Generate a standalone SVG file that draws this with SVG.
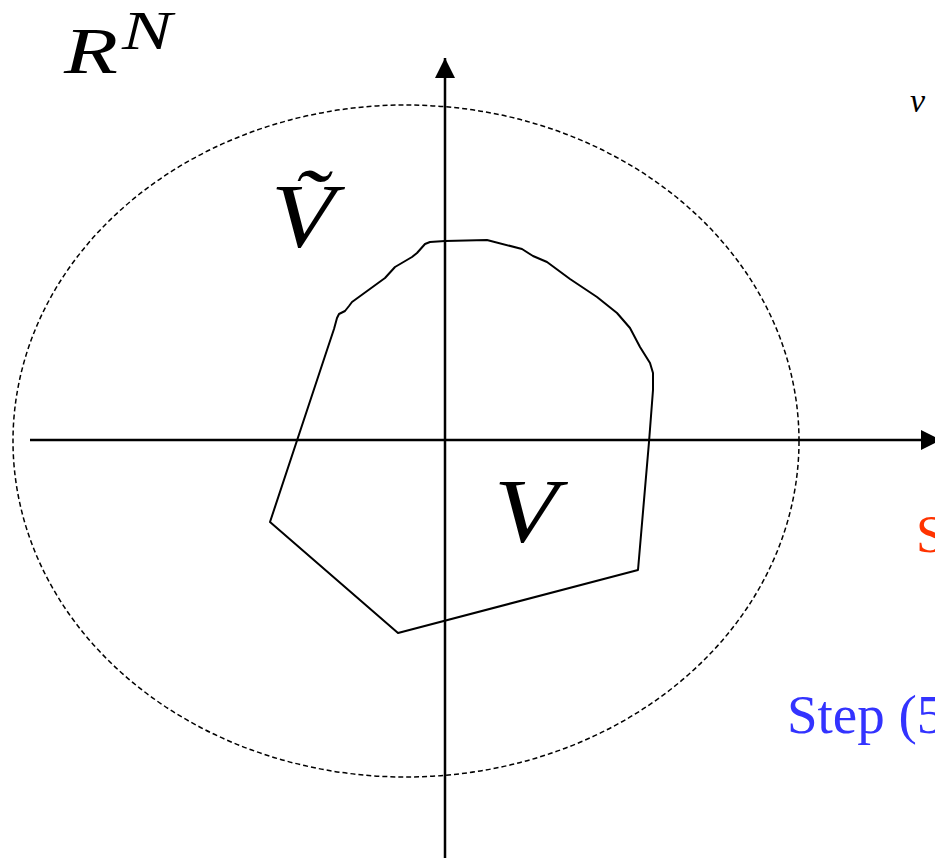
<svg xmlns="http://www.w3.org/2000/svg" width="935" height="860" viewBox="0 0 935 860">
<style>
.math{font-family:"Liberation Serif","DejaVu Serif",serif;font-style:italic;fill:#000}
.ax{stroke:#000;stroke-width:2.5;fill:none}
.shape{stroke:#000;stroke-width:2;fill:none;stroke-linejoin:round}
.dash{stroke:#000;stroke-width:1.5;fill:none;stroke-dasharray:5 3}
.lbl{font-family:"Liberation Serif","DejaVu Serif",serif}
</style>
<defs>
<marker id="arr" markerWidth="20" markerHeight="20" refX="20" refY="10" orient="auto" markerUnits="userSpaceOnUse">
<path d="M0,0 L20,10 L0,20 Z" fill="#000"/>
</marker>
</defs>
<rect width="935" height="860" fill="#fff"/>
<g id="ellipse">
<ellipse class="dash" cx="406" cy="441" rx="393" ry="336"/>
</g>
<g id="connectors">
<line class="ax" x1="30" y1="440" x2="941" y2="440" marker-end="url(#arr)"/>
<line class="ax" x1="445" y1="858" x2="445" y2="58" marker-end="url(#arr)"/>
</g>
<g id="region-V">
<path class="shape" d="M270,522 L327,350 L334,329 L337,318 L339,314 L345,311 L349,306 L352,302 L385,278 L395,267 L412,257 L417,253 L425,244 L430,242 L445,241 L487,240 L522,249 L533,256 L547,262 L570,279 L597,297 L617,313 L630,328 L640,347 L650,363 L653,373 L653,390 L649,442 L638,570 L398,633 Z"/>
</g>
<g id="label-RN">
<text class="math" x="64" y="73" font-size="66" textLength="54" lengthAdjust="spacingAndGlyphs">R</text>
<text class="math" x="122" y="49" font-size="55" textLength="50" lengthAdjust="spacingAndGlyphs">N</text>
</g>
<g id="label-Vtilde">
<text class="math" x="271" y="247" font-size="90" textLength="64" lengthAdjust="spacingAndGlyphs">Ṽ</text>
</g>
<g id="label-V">
<text class="math" x="494" y="542" font-size="90" textLength="64" lengthAdjust="spacingAndGlyphs">V</text>
</g>
<g id="label-v">
<text class="math" x="910" y="112" font-size="34">v</text>
</g>
<g id="label-S">
<text class="lbl" x="916" y="552" font-size="53" fill="#ff3300">S</text>
</g>
<g id="label-step">
<text class="lbl" x="787" y="733" font-size="55" fill="#3333ff">Step (5</text>
</g>
</svg>
